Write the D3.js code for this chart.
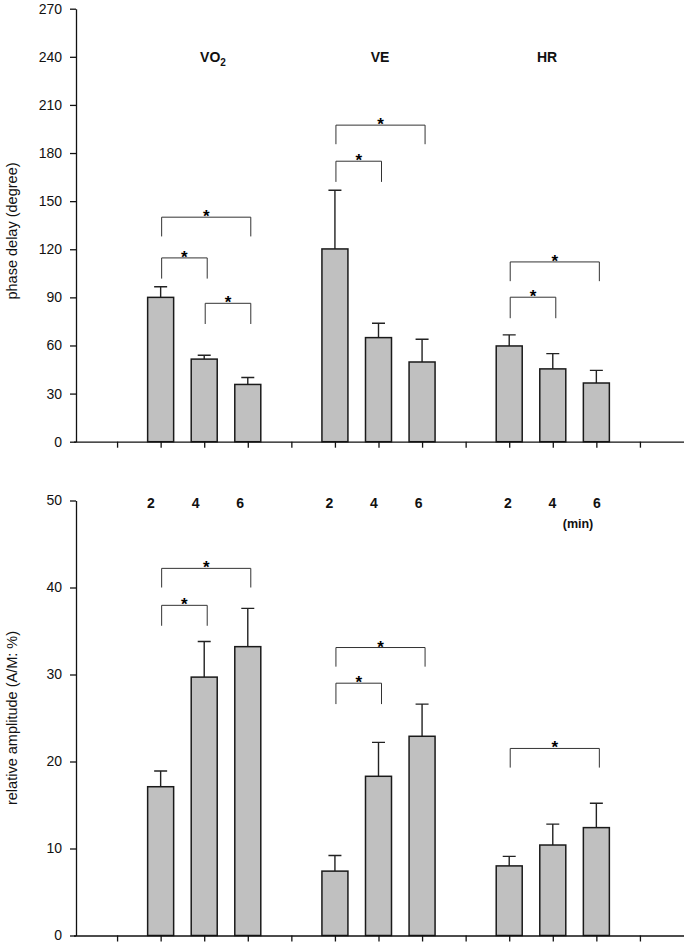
<!DOCTYPE html>
<html><head><meta charset="utf-8">
<script src="https://cdn.jsdelivr.net/npm/d3@7"></script>
<style>body{margin:0;background:#fff}svg{display:block}</style>
</head><body>
<svg id="c" width="685" height="946"></svg>
<script>
// ---- data ----
const groups = ["VO2", "VE", "HR"];
const durations = ["2", "4", "6"];
const phaseMean = [[90.0, 51.5, 35.7], [120.2, 64.9, 49.7], [59.7, 45.4, 36.6]];
const phaseSD   = [[6.6, 2.4, 4.3], [36.6, 9.0, 14.2], [6.9, 9.5, 7.9]];
const ampMean   = [[17.1, 29.7, 33.2], [7.4, 18.3, 22.9], [8.0, 10.4, 12.4]];
const ampSD     = [[1.8, 4.1, 4.4], [1.8, 3.9, 3.7], [1.1, 2.4, 2.8]];
const phaseTicks = [0, 30, 60, 90, 120, 150, 180, 210, 240, 270];
const ampTicks = [0, 10, 20, 30, 40, 50];
// significance brackets: [group, fromIdx, toIdx, barLevel, legEnd]
const phaseSig = [[0, 0, 2, 140, 128], [0, 0, 1, 114.6, 101.7], [0, 1, 2, 86.3, 73.4],
                  [1, 0, 2, 197.4, 185.5], [1, 0, 1, 174.9, 162],
                  [2, 0, 2, 112.1, 100.1], [2, 0, 1, 90.1, 77]];
const ampSig = [[0, 0, 2, 42.2, 40.0], [0, 0, 1, 37.95, 35.6],
                [1, 0, 2, 33.1, 30.9], [1, 0, 1, 29.0, 26.6],
                [2, 0, 2, 21.5, 19.3]];

// ---- layout ----
const svg = d3.select("#c");
const FONT = "Arial, 'Liberation Sans', Helvetica, sans-serif";
const axisX = 76;
const x = d3.scaleLinear().domain([0, 14]).range([73.5, 683.5]);
const slot = (g, i) => 2 + g * 4 + i;
const barW = 26;

function panel(means, sds, sig, ticks, yMax, yRange, ylabel, ylabelY) {
  const y = d3.scaleLinear().domain([0, yMax]).range(yRange);
  const g = svg.append("g");
  const data = [];
  means.forEach((row, gi) => row.forEach((v, i) => data.push({gi, i, v, sd: sds[gi][i]})));
  // error bars
  g.selectAll(".err").data(data).enter().append("path")
    .attr("d", d => {
      const cx = x(slot(d.gi, d.i)), y0 = y(d.v), y1 = y(d.v + d.sd);
      return `M${cx},${y0}V${y1}M${cx - 6.5},${y1}H${cx + 6.5}`;
    })
    .attr("stroke", "#222").attr("stroke-width", 1.4).attr("fill", "none");
  // bars
  g.selectAll(".bar").data(data).enter().append("rect")
    .attr("x", d => x(slot(d.gi, d.i)) - barW / 2)
    .attr("y", d => y(d.v))
    .attr("width", barW)
    .attr("height", d => y(0) - y(d.v))
    .attr("fill", "#c0c0c0").attr("stroke", "#1a1a1a").attr("stroke-width", 1.5);
  // brackets
  sig.forEach(([gi, a, b, lvl, leg]) => {
    const x1 = x(slot(gi, a)) + 1, x2 = x(slot(gi, b)) + 3;
    g.append("path")
      .attr("d", `M${x1},${y(leg)}V${y(lvl)}H${x2}V${y(leg)}`)
      .attr("stroke", "#333").attr("stroke-width", 1).attr("fill", "none");
    g.append("text").attr("x", (x1 + x2) / 2).attr("y", y(lvl) + 5)
      .attr("text-anchor", "middle").attr("font-family", FONT)
      .attr("font-size", 17).attr("font-weight", "bold").text("*");
  });
  // y axis
  const ya = g.append("g").attr("transform", `translate(${axisX},0)`)
    .call(d3.axisLeft(y).tickValues(ticks).tickSize(6).tickSizeOuter(0).tickPadding(8));
  ya.selectAll("text").attr("font-family", FONT).attr("font-size", 14).attr("fill", "#111");
  ya.selectAll("line,path").attr("stroke", "#111").attr("stroke-width", 1.3);
  // x axis
  const xa = g.append("g").attr("transform", `translate(0,${y(0)})`)
    .call(d3.axisBottom(x).tickValues(d3.range(1, 14)).tickSize(6).tickSizeOuter(0).tickFormat(""));
  xa.selectAll("line,path").attr("stroke", "#111").attr("stroke-width", 1.3);
  // y label
  g.append("text")
    .attr("transform", `translate(17,${ylabelY}) rotate(-90)`)
    .attr("text-anchor", "middle").attr("font-family", FONT).attr("font-size", 14.5)
    .attr("fill", "#111").text(ylabel);
  return y;
}

panel(phaseMean, phaseSD, phaseSig, phaseTicks, 270, [441.7, 8.7], "phase delay (degree)", 231);
panel(ampMean, ampSD, ampSig, ampTicks, 50, [935.5, 500.5], "relative amplitude (A/M: %)", 718);

// group titles
const titleX = d3.scaleLinear().domain([3, 11]).range([213, 547]);
groups.forEach((gname, gi) => {
  const t = svg.append("text").attr("x", titleX(slot(gi, 1))).attr("y", 62)
    .attr("text-anchor", "middle").attr("font-family", FONT)
    .attr("font-size", 14).attr("font-weight", "bold").attr("fill", "#111");
  if (gname === "VO2") {
    t.append("tspan").text("VO");
    t.append("tspan").attr("font-size", 10).attr("dy", 4).text("2");
  } else t.text(gname);
});

// duration labels
const labX = d3.scaleLinear().domain([2, 12]).range([151, 597]);
groups.forEach((gname, gi) => durations.forEach((dname, i) => {
  svg.append("text").attr("x", labX(slot(gi, i))).attr("y", 508)
    .attr("text-anchor", "middle").attr("font-family", FONT)
    .attr("font-size", 14).attr("font-weight", "bold").attr("fill", "#111").text(dname);
}));
svg.append("text").attr("x", 578).attr("y", 528)
  .attr("text-anchor", "middle").attr("font-family", FONT)
  .attr("font-size", 12.5).attr("font-weight", "bold").attr("fill", "#111").text("(min)");
</script>
</body></html>
